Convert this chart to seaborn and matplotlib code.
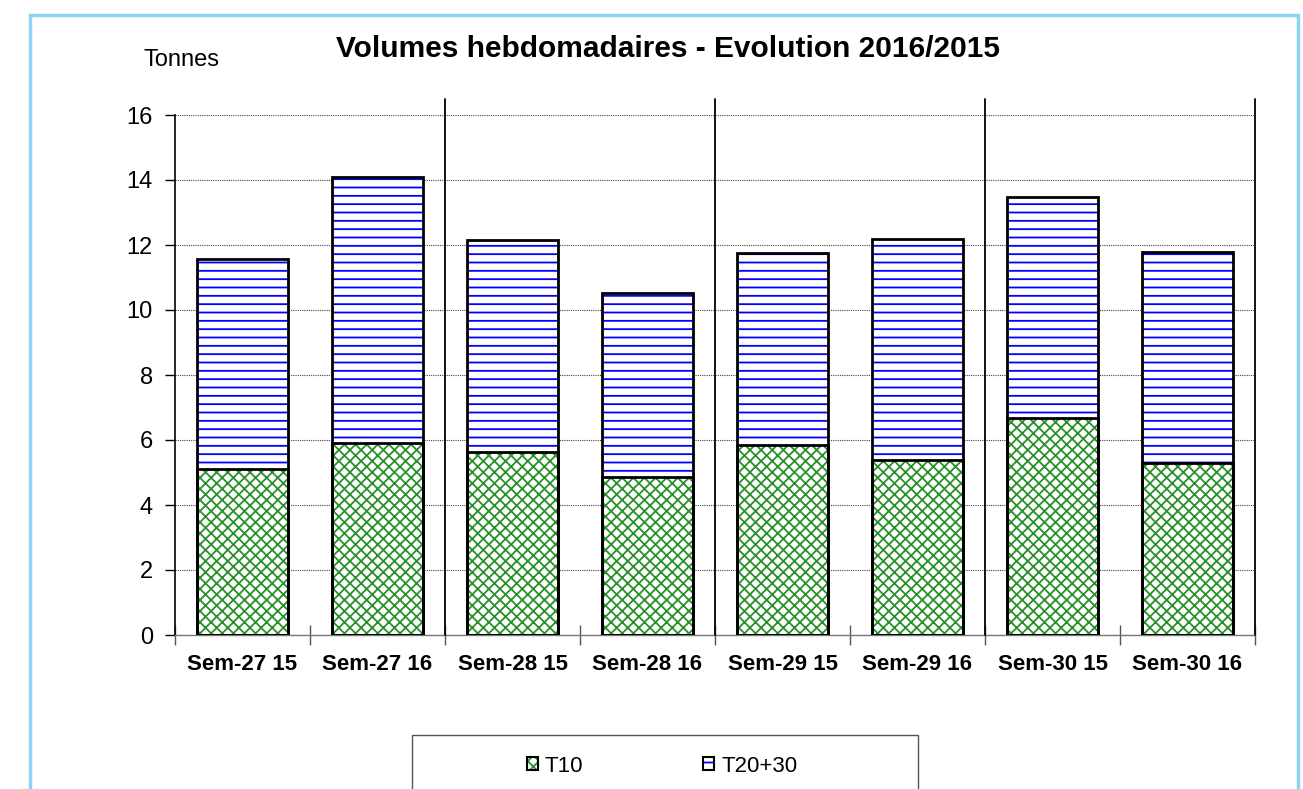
import matplotlib
matplotlib.use("Agg")
import seaborn as sns
import matplotlib.pyplot as plt
import pandas as pd
from matplotlib.patches import Patch, Rectangle
from matplotlib.ticker import FixedLocator

# valeurs (tonnes)
semaines = ["Sem-27 15", "Sem-27 16", "Sem-28 15", "Sem-28 16",
            "Sem-29 15", "Sem-29 16", "Sem-30 15", "Sem-30 16"]
t10 = [5.1, 5.9, 5.63, 4.86, 5.85, 5.38, 6.68, 5.29]
t20_30 = [6.47, 8.2, 6.52, 5.66, 5.9, 6.82, 6.8, 6.51]

df = pd.DataFrame({"Semaine": semaines, "T10": t10, "T20+30": t20_30})
df["Total"] = df["T10"] + df["T20+30"]

sns.set_theme(style="white")
plt.rcParams["font.family"] = ["Liberation Sans", "DejaVu Sans"]
plt.rcParams["hatch.linewidth"] = 1.3

vert = "#2a902a"
bleu = "#0000ff"

fig = plt.figure(figsize=(13.03, 7.89), dpi=100)
ax = fig.add_axes([175 / 1303, 1 - 635 / 789, 1080 / 1303, 520 / 789])

largeur = 0.67
# remplissage hachuré
sns.barplot(data=df, x="Semaine", y="Total", color="white", edgecolor=bleu, hatch="--",
            linewidth=0, width=largeur, errorbar=None, ax=ax, zorder=3)
sns.barplot(data=df, x="Semaine", y="T10", color="white", edgecolor=vert, hatch="xxx",
            linewidth=0, width=largeur, errorbar=None, ax=ax, zorder=3)
# contours noirs
sns.barplot(data=df, x="Semaine", y="Total", color="black", facecolor="none", edgecolor="black",
            linewidth=2, width=largeur, errorbar=None, ax=ax, zorder=4)
sns.barplot(data=df, x="Semaine", y="T10", color="black", facecolor="none", edgecolor="black",
            linewidth=2, width=largeur, errorbar=None, ax=ax, zorder=4)

ax.set_xlim(-0.5, len(semaines) - 0.5)
ax.set_ylim(0, 16)
ax.set_yticks(range(0, 17, 2))
ax.set_xlabel("")
ax.set_ylabel("")

ax.yaxis.grid(True, linestyle=(0, (1, 1)), color="#444444", linewidth=0.8)
ax.xaxis.grid(False)

ax.tick_params(axis="y", direction="out", length=7, width=1, color="black",
               labelsize=17, labelcolor="black", pad=9, left=True)
ax.tick_params(axis="x", which="major", length=0, pad=14, labelcolor="black")
ax.xaxis.set_minor_locator(FixedLocator([i - 0.5 for i in range(len(semaines) + 1)]))
ax.tick_params(axis="x", which="minor", direction="inout", length=14, width=1,
               color="#555555", bottom=True)
for lab in ax.get_xticklabels():
    lab.set_fontweight("bold")
    lab.set_fontsize(16)

for cote in ["top", "right"]:
    ax.spines[cote].set_visible(False)
ax.spines["left"].set_color("black")
ax.spines["left"].set_linewidth(1.2)
ax.spines["bottom"].set_color("#777777")
ax.spines["bottom"].set_linewidth(1)

# séparateurs entre semaines
for x in [1.5, 3.5, 5.5, 7.5]:
    ax.axvline(x, ymin=0, ymax=1.03, color="black", linewidth=1.3, clip_on=False, zorder=5)

fig.text(668 / 1303, 1 - 49 / 789, "Volumes hebdomadaires - Evolution 2016/2015",
         ha="center", va="center", fontsize=21.5, fontweight="bold", color="black")
fig.text(182 / 1303, 1 - 60 / 789, "Tonnes", ha="center", va="center", fontsize=17, color="black")

# cadre extérieur et cadre de légende
fig.add_artist(Rectangle((30 / 1303, -0.1), 1268 / 1303, 1 - 15 / 789 + 0.1,
                         transform=fig.transFigure, fill=False, edgecolor="#8dd3f2", linewidth=2.5))
fig.add_artist(Rectangle((412 / 1303, -0.1), 506 / 1303, 1 - 735 / 789 + 0.1,
                         transform=fig.transFigure, fill=False, edgecolor="#555555", linewidth=1))

handles = [
    (Patch(facecolor="white", edgecolor=vert, hatch="xxx", linewidth=0),
     Patch(facecolor="none", edgecolor="black", linewidth=1.5)),
    (Patch(facecolor="white", edgecolor=bleu, hatch="--", linewidth=0),
     Patch(facecolor="none", edgecolor="black", linewidth=1.5)),
]
leg = fig.legend(handles, ["T10", "T20+30"], loc="center left",
                 bbox_to_anchor=(527 / 1303, 1 - 766 / 789), ncol=2, frameon=False,
                 fontsize=16, handlelength=0.5, handleheight=0.5, handletextpad=0.3,
                 columnspacing=5.4, borderpad=0, borderaxespad=0)
for t in leg.get_texts():
    t.set_color("black")

fig.savefig("out.png", dpi=100)
